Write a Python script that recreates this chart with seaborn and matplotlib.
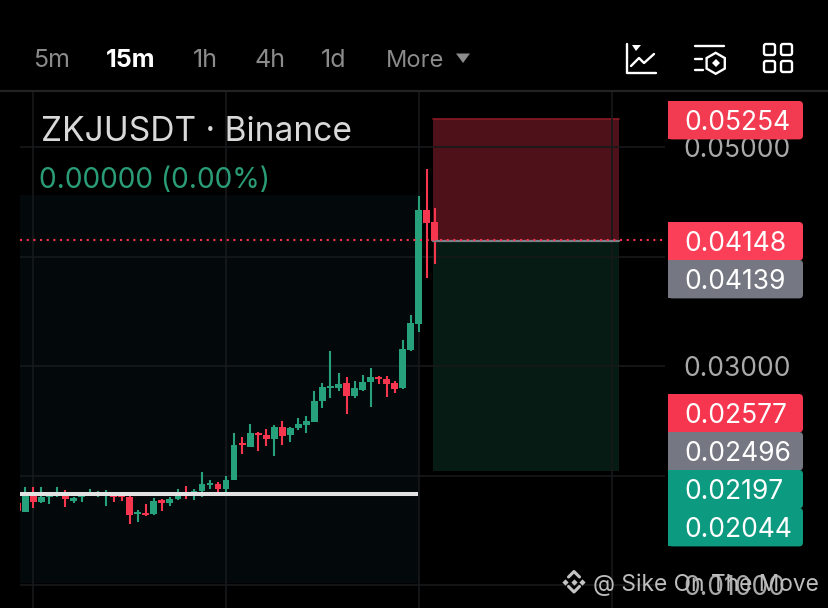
import numpy as np
import pandas as pd
import matplotlib
matplotlib.use("Agg")
from matplotlib import pyplot as plt
from matplotlib.patches import FancyBboxPatch, Polygon, Rectangle, RegularPolygon
import seaborn as sns

opens = [1749, 1671, 1838, 1755, 1801, 1827, 1843, 1770, 1801, 1831, 1831, 1819, 1813, 1813, 1807, 1649, 1661, 1649,
         1774, 1746, 1783, 1827, 1831, 1861, 1911, 1920, 1877, 1956, 2300, 2263, 2391, 2367, 2334, 2443, 2367, 2431,
         2461, 2492, 2678, 2802, 2802, 2842, 2726, 2781, 2851, 2902, 2879, 2842, 2797, 3146, 3386, 4425, 4315]
highs = [1767, 1898, 1892, 1892, 1840, 1892, 1868, 1807, 1840, 1874, 1859, 1868, 1822, 1822, 1813, 1685, 1740, 1792,
         1783, 1807, 1874, 1907, 1880, 2029, 1959, 1941, 1996, 2386, 2355, 2471, 2395, 2422, 2461, 2498, 2440, 2525,
         2544, 2775, 2842, 3140, 2933, 2897, 2863, 2918, 2979, 2906, 2909, 2863, 3235, 3466, 4555, 4796, 4443]
lows = [1667, 1671, 1706, 1746, 1740, 1801, 1715, 1746, 1758, 1822, 1801, 1722, 1758, 1765, 1557, 1578, 1633, 1642,
        1679, 1724, 1774, 1783, 1777, 1801, 1877, 1843, 1843, 1956, 2197, 2263, 2221, 2270, 2178, 2276, 2306, 2418,
        2391, 2489, 2617, 2708, 2772, 2562, 2711, 2775, 2623, 2833, 2720, 2751, 2790, 3134, 3308, 3807, 3929]
closes = [1676, 1822, 1761, 1801, 1813, 1845, 1783, 1795, 1819, 1843, 1840, 1831, 1807, 1807, 1640, 1664, 1640, 1770,
          1746, 1783, 1822, 1813, 1861, 1920, 1934, 1874, 1959, 2282, 2279, 2386, 2373, 2331, 2443, 2364, 2437, 2468,
          2501, 2681, 2808, 2818, 2836, 2726, 2797, 2857, 2897, 2884, 2836, 2790, 3153, 3390, 4425, 4309, 4139]

stop_price = 0.05254
entry_price = 0.04148
target_price = 0.02044
support_price = 0.01831

grid_prices = [0.05, 0.04, 0.03, 0.02, 0.01]
grid_labels = ["0.05000", "", "0.03000", "", "0.01000"]
grid_candles = [2, 26, 50, 74]

tag_values = ["0.05254", "0.04148", "0.04139", "0.02577", "0.02496", "0.02197", "0.02044"]
tag_colors = ["#f23a50", "#fb3f58", "#757782", "#f5364e", "#757782", "#0c9a80", "#0c9a80"]
tag_tops = [101, 222, 260, 394, 432, 470, 508]

periods = ["5m", "15m", "1h", "4h", "1d", "More"]
period_x = [33, 106, 193, 255, 321, 386]

GREEN = "#26a17b"
RED = "#f6364f"
FONT = "Inter"


def fmt_candles():
    df = pd.DataFrame({"open": opens, "high": highs, "low": lows, "close": closes}) / 100000
    df["n"] = np.arange(len(df))
    df["bottom"] = df[["open", "close"]].min(axis=1)
    df["body"] = (df["open"] - df["close"]).abs()
    return df


sns.set_theme(style="dark", rc={"figure.facecolor": "black", "axes.facecolor": "black"})
plt.rcParams["font.family"] = [FONT, "DejaVu Sans"]

fig = plt.figure(figsize=(8.29, 6.08), dpi=100)
ax = fig.add_axes([20 / 829, 0, 645 / 829, 517 / 608])
df = fmt_candles()

# candle n sits at 17.3 + 8.03 n px, 0.01 of price is 109.5 px
ax.set_xlim((20 - 17.3) / 8.03, (665 - 17.3) / 8.03)
ax.set_ylim(0.05 - 461 / 10950, 0.05 + 56 / 10950)

x_left, x_right = ax.get_xlim()
ax.fill_between([x_left, 49.9], 0.01018, 0.04562, color="#03090b", lw=0, zorder=0.5)
ax.fill_between([51.77, 74.9], entry_price, stop_price, color=RED, alpha=0.32, lw=0, zorder=1)
ax.fill_between([51.77, 74.9], target_price, entry_price, color=GREEN, alpha=0.17, lw=0, zorder=1)
ax.plot([51.77, 74.9], [stop_price, stop_price], color="#8a1a26", lw=1.2, zorder=1.2)
ax.plot([51.77, 74.9], [entry_price - 0.00009] * 2, color="#7c8088", lw=1.6, zorder=4)

for color, part in [(GREEN, df[df.close >= df.open]), (RED, df[df.close < df.open])]:
    ax.vlines(part.n, part.low, part.high, color=color, lw=1.5, zorder=3)
    sns.barplot(data=part, x="n", y="body", native_scale=True, bottom=part.bottom.values, color=color,
                saturation=1, width=0.84, errorbar=None, zorder=3, lw=0, ax=ax)

ax.set_xlim(x_left, x_right)
ax.set_ylim(0.05 - 461 / 10950, 0.05 + 56 / 10950)
ax.set_xlabel("")
ax.set_ylabel("")

ax.plot([x_left, 49.9], [support_price, support_price], color="#e2e2e2", lw=2.9, zorder=5, solid_capstyle="butt")
ax.plot([x_left, x_right], [entry_price, entry_price], color=RED, lw=1.5, ls=(0, (1, 2.2)), zorder=6)

ax.set_xticks(grid_candles)
ax.set_xticklabels([])
ax.set_yticks(grid_prices)
ax.set_yticklabels(grid_labels)
ax.yaxis.tick_right()
ax.grid(True, color="#17191a", lw=1.2)
ax.set_axisbelow(False)
ax.tick_params(axis="both", length=0)
ax.tick_params(axis="y", pad=13, labelsize=19, labelcolor="#a9a9a9")
for label in ax.get_yticklabels():
    label.set_fontfamily(FONT)
for s in ax.spines.values():
    s.set_visible(False)

# overlay in image pixels for the app chrome
top = fig.add_axes([0, 0, 1, 1], facecolor="none")
top.set_xlim(0, 829)
top.set_ylim(608, 0)
top.axis("off")

top.plot([0, 829], [91, 91], color="#232323", lw=1.6)

for name, x in zip(periods, period_x):
    active = name == "15m"
    top.text(x, 67, name, fontsize=17 if name == "More" else 18, color="white" if active else "#8b8b8b",
             fontweight="bold" if active else "normal", va="baseline", ha="left")
top.add_patch(Polygon([(456, 53.5), (470, 53.5), (463, 63)], color="#8b8b8b", lw=0))

top.text(41, 141, "ZKJUSDT · Binance", fontsize=24.1, color="#d9d9d9", va="baseline", ha="left")
top.text(39, 188, "0.00000 (0.00%)", fontsize=20.2, color="#2a9d78", va="baseline", ha="left")

for value, color, y in zip(tag_values, tag_colors, tag_tops):
    top.add_patch(FancyBboxPatch((670, y + 2), 131, 34.4, boxstyle="round,pad=2,rounding_size=4", color=color, lw=0))
    top.add_patch(Rectangle((668, y), 12, 38.4, color=color, lw=0))
    top.text(684, y + 19, value, fontsize=19, color="white", va="center_baseline", ha="left")

# toolbar icons
icon = dict(color="white", lw=1.7, solid_capstyle="round", solid_joinstyle="round")
top.plot([627, 627, 656], [44, 72.5, 72.5], **icon)
top.plot([631, 639, 644, 654], [66, 58, 63, 54], **icon)
top.add_patch(Polygon([(632, 45), (641, 45), (636, 51)], color="white", lw=0))
top.plot([695, 724], [46, 46], **icon)
top.plot([695, 702], [59, 59], **icon)
top.plot([695, 703], [70, 70], **icon)
top.add_patch(RegularPolygon((715.7, 63.3), 6, radius=10.5, fill=False, ec="white", lw=1.7))
top.plot([715.7], [63.3], marker="D", ms=3.6, color="white", mew=0)
for x0 in [764, 781]:
    for y0 in [44, 61]:
        top.add_patch(FancyBboxPatch((x0 + 1, y0 + 1), 9, 9, boxstyle="round,pad=1,rounding_size=2",
                                     fill=False, ec="white", lw=1.7))

# watermark
top.text(593, 591, "@ Sike On The Move", fontsize=16.4, color="#bdbdbd", va="baseline", ha="left")
mark = "#c4c4c4"
top.plot([565.5, 574, 582.5], [581.7, 581.7, 581.7], ls="", marker="D", ms=3.2, color=mark, mew=0)
top.plot([568.5, 574, 579.5], [577, 571.5, 577], color=mark, lw=2.2)
top.plot([568.5, 574, 579.5], [586.5, 592, 586.5], color=mark, lw=2.2)

plt.savefig("out.png", dpi=100, facecolor="black")
